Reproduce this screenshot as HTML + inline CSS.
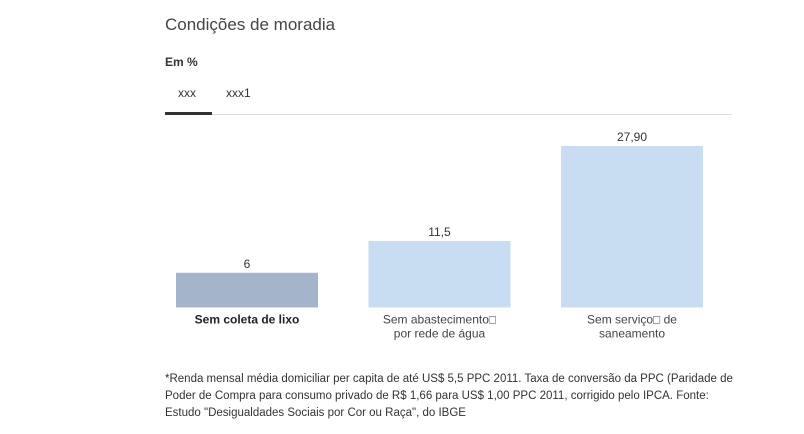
<!DOCTYPE html>
<html><head><meta charset="utf-8"><style>
body{margin:0;width:804px;height:434px;background:#fff;font-family:"Liberation Sans",sans-serif;position:relative;overflow:hidden;color:#333}
.abs{position:absolute}
</style></head><body>
<div class="abs" style="left:165px;top:15px;font-size:17px;color:#444">Condições de moradia</div>
<div class="abs" style="left:165px;top:55px;font-size:12px;font-weight:bold;color:#333">Em %</div>
<div class="abs" style="left:178px;top:86px;font-size:12px;color:#333">xxx</div>
<div class="abs" style="left:226px;top:86px;font-size:12px;color:#333">xxx1</div>
<div class="abs" style="left:165px;top:114px;width:567px;height:1px;background:#ddd"></div>
<div class="abs" style="left:165px;top:112px;width:47px;height:3px;background:#333"></div>
<svg class="abs" style="left:0;top:0" width="804" height="434" id="chart"></svg>
<div class="abs" style="left:165px;top:371px;width:580px;font-size:11.5px;line-height:17px;color:#333">*Renda mensal média domiciliar per capita de até US$ 5,5 PPC 2011. Taxa de conversão da PPC (Paridade de Poder de Compra para consumo privado de R$ 1,66 para US$ 1,00 PPC 2011, corrigido pelo IPCA. Fonte: Estudo "Desigualdades Sociais por Cor ou Raça", do IBGE</div>
<script>
const categories=[["Sem coleta de lixo"],["Sem abastecimento\u25A1","por rede de água"],["Sem serviço\u25A1 de","saneamento"]];
const values=[6,11.5,27.9];
const valueLabels=["6","11,5","27,90"];
const colors=["#a4b4cb","#c8dcf2","#c8dcf2"];
const svg=document.getElementById('chart');const NS="http://www.w3.org/2000/svg";
const base=307.5,scale=161.5/27.9,x0=176,step=192.5,bw=142;
const y=v=>base-v*scale;
values.forEach((v,i)=>{
 const x=x0+i*step;
 const r=document.createElementNS(NS,'rect');
 
 
 r.setAttribute('x',x);r.setAttribute('y',y(v));r.setAttribute('width',bw);r.setAttribute('height',v*scale);r.setAttribute('fill',colors[i]);
 svg.appendChild(r);
 const t=document.createElementNS(NS,'text');
 
 
 t.setAttribute('x',x+bw/2);t.setAttribute('y',y(v)-5);t.setAttribute('text-anchor','middle');t.setAttribute('font-size','12');t.setAttribute('fill','#333');
 t.textContent=valueLabels[i];svg.appendChild(t);
 categories[i].forEach((line,j)=>{
  const c=document.createElementNS(NS,'text');
  
  
  c.setAttribute('x',x+bw/2);c.setAttribute('y',base+16+j*14);c.setAttribute('text-anchor','middle');c.setAttribute('font-size','12');
  c.setAttribute('fill',i==0?'#222':'#444');if(i==0)c.setAttribute('font-weight','bold');
  c.textContent=line;svg.appendChild(c);
 });
});
</script>
</body></html>
